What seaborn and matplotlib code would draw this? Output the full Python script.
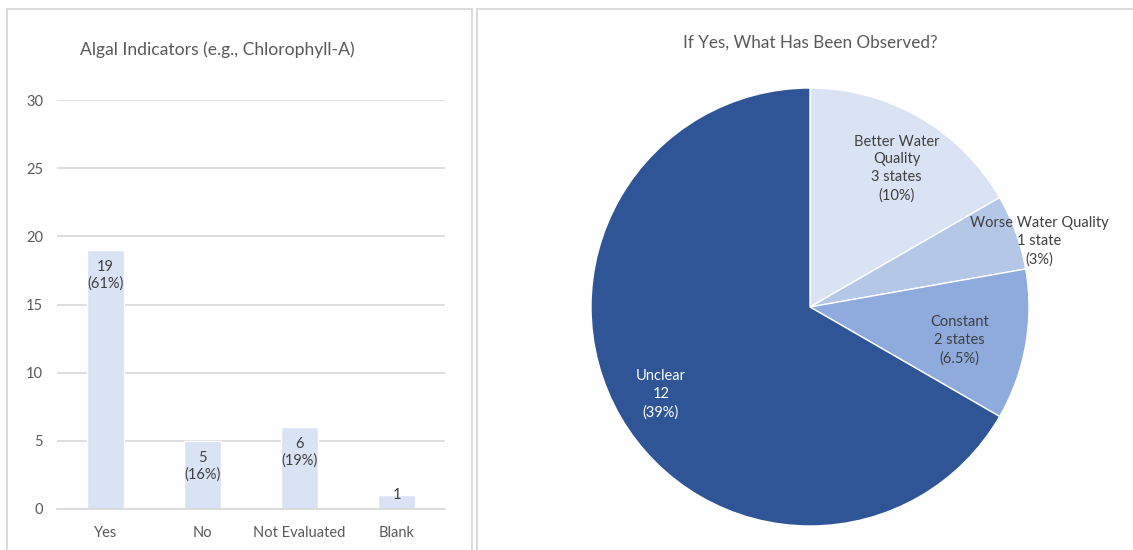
import matplotlib
matplotlib.use("Agg")
import matplotlib.pyplot as plt
import seaborn as sns
import pandas as pd
import numpy as np
from matplotlib.patches import Rectangle

# Survey responses: algal indicators
categories = ["Yes", "No", "Not Evaluated", "Blank"]
counts = [19, 5, 6, 1]
bar_labels = ["19\n(61%)", "5\n(16%)", "6\n(19%)", "1"]
y_ticks = [0, 5, 10, 15, 20, 25, 30]

# Follow-up: observed trend among "Yes" responses
trend_names = ["Better Water Quality", "Worse Water Quality", "Constant", "Unclear"]
trend_counts = [3, 1, 2, 12]
trend_labels = ["Better Water\nQuality\n3 states\n(10%)",
                "Worse Water Quality\n1 state\n(3%)",
                "Constant\n2 states\n(6.5%)",
                "Unclear\n12\n(39%)"]

sns.set_theme(style="white")
plt.rcParams["font.family"] = ["Lato", "DejaVu Sans"]

TEXT = "#595959"
GRID = "#d9d9d9"
W, H = 1133, 550
fig = plt.figure(figsize=(W / 100, H / 100), dpi=100)

# panel frames
fig.patches.append(Rectangle((7 / W, -0.05), (472 - 7) / W, (H - 9) / H + 0.05,
                             transform=fig.transFigure, fill=False,
                             edgecolor=GRID, linewidth=1.3))
fig.patches.append(Rectangle((477 / W, -0.05), (W + 10 - 477) / W, (H - 9) / H + 0.05,
                             transform=fig.transFigure, fill=False,
                             edgecolor=GRID, linewidth=1.3))

# ---- bar chart ----
ax = fig.add_axes([57 / W, (H - 509) / H, (445 - 57) / W, (509 - 100) / H])
df = pd.DataFrame({"category": categories, "count": counts})
sns.barplot(data=df, x="category", y="count", ax=ax, color="#dae3f3",
            saturation=1, width=0.39, order=categories)
ax.set_xlim(-0.5, len(categories) - 0.5)
ax.set_ylim(0, 30)
ax.set_yticks(y_ticks)
ax.yaxis.grid(True, color=GRID, linewidth=1.2)
ax.set_axisbelow(True)
for s in ["top", "right", "left"]:
    ax.spines[s].set_visible(False)
ax.spines["bottom"].set_color(GRID)
ax.spines["bottom"].set_linewidth(1.2)
ax.set_xlabel("")
ax.set_ylabel("")
ax.tick_params(axis="both", length=0, colors=TEXT, labelsize=10.5)
ax.tick_params(axis="y", pad=10)
ax.tick_params(axis="x", pad=12)
for i, (v, lab) in enumerate(zip(counts, bar_labels)):
    if "\n" in lab:
        ax.annotate(lab, (i, v), xytext=(0, -7), textcoords="offset points",
                    ha="center", va="top", fontsize=10.5, color="#404040",
                    linespacing=1.25)
    else:
        ax.annotate(lab, (i, v), xytext=(0, 0), textcoords="offset points",
                    ha="center", va="center", fontsize=10.5, color="#404040")
fig.text(217 / W, 1 - 50 / H, "Algal Indicators (e.g., Chlorophyll-A)",
         ha="center", va="center", fontsize=12.6, color=TEXT)

# ---- pie chart ----
cx, cy, r = 810, 307, 219
half = 250
pax = fig.add_axes([(cx - half) / W, (H - cy - half) / H, 2 * half / W, 2 * half / H])
pie_colors = ["#dae3f3", "#b4c7e7", "#8faadc", "#2f5597"]
wedges, _ = pax.pie(trend_counts, colors=pie_colors, startangle=90,
                    counterclock=False, radius=1,
                    wedgeprops=dict(edgecolor="white", linewidth=1.0))
L = half / r
pax.set_xlim(-L, L)
pax.set_ylim(-L, L)
pax.axis("off")
# label placement: radial distance and clockwise angular nudge per slice
label_r = [0.745, 1.09, 0.70, 0.79]
label_nudge = [2.0, 4.0, 2.5, -0.4]
label_col = ["#404040", "#404040", "#404040", "white"]
for w, lab, rr, dn, c in zip(wedges, trend_labels, label_r, label_nudge, label_col):
    ang = np.deg2rad((w.theta1 + w.theta2) / 2 - dn)
    pax.text(rr * np.cos(ang), rr * np.sin(ang), lab, ha="center", va="center",
             fontsize=10.5, color=c, linespacing=1.35)
fig.text(cx / W, 1 - 43 / H, "If Yes, What Has Been Observed?",
         ha="center", va="center", fontsize=12.3, color=TEXT)

fig.savefig("out.png", dpi=100)
